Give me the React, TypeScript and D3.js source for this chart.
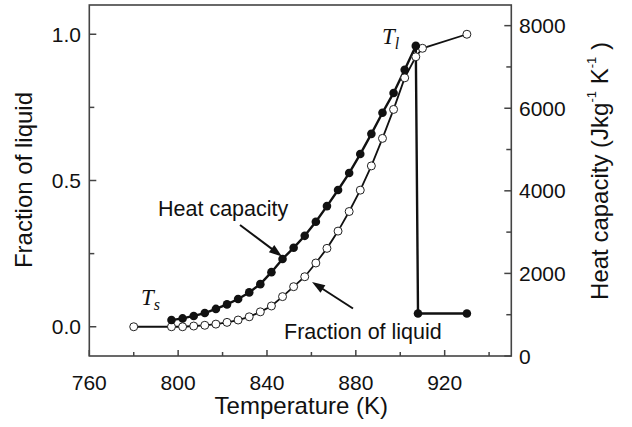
import React from 'react';
import * as d3 from 'd3';

const fracT = [780, 797, 802, 807, 812, 817, 822, 827, 832, 837, 842, 847, 852, 857, 862, 867, 872, 877, 882, 887, 892, 897, 902, 907, 910, 930];
const fracV = [0, 0, 0, 0.0025, 0.005, 0.009, 0.015, 0.023, 0.034, 0.051, 0.071, 0.103, 0.137, 0.171, 0.218, 0.268, 0.327, 0.394, 0.467, 0.55, 0.644, 0.743, 0.851, 0.923, 0.952, 1.0];

const hcT = [797, 802, 807, 812, 817, 822, 827, 832, 837, 842, 847, 852, 857, 862, 867, 872, 877, 882, 887, 892, 897, 902, 907, 908, 930];
const hcV = [870, 910, 970, 1040, 1140, 1250, 1380, 1540, 1740, 2030, 2350, 2620, 2910, 3250, 3630, 4020, 4430, 4890, 5380, 5890, 6370, 6930, 7510, 1030, 1030];

const xTicks = [760, 800, 840, 880, 920];
const xMinor = [780, 820, 860, 900, 940];
const leftTicks = [0, 0.5, 1.0];
const leftMinor = [0.25, 0.75];
const rightTicks = [0, 2000, 4000, 6000, 8000];
const rightMinor = [1000, 3000, 5000, 7000];

const W = 632, H = 427;
const L = 89.3, R = 511.3, T = 5, B = 356;
const sans = '"Liberation Sans", Arial, sans-serif';
const serif = '"Liberation Serif", "Times New Roman", serif';
const axisColor = '#444';

function arrow(x1: number, y1: number, x2: number, y2: number, len = 13, half = 4.5) {
  const dx = x2 - x1, dy = y2 - y1;
  const d = Math.hypot(dx, dy);
  const ux = dx / d, uy = dy / d;
  const bx = x2 - ux * len, by = y2 - uy * len;
  const px = -uy, py = ux;
  return {
    line: `M${x1},${y1}L${bx + ux * 2},${by + uy * 2}`,
    head: `M${x2},${y2}L${bx + px * half},${by + py * half}L${bx - px * half},${by - py * half}Z`,
  };
}

export default function App() {
  const x = d3.scaleLinear().domain([760, 950]).range([L, R]);
  const yL = d3.scaleLinear().domain([-0.1, 1.1]).range([B, T]);
  const yR = d3.scaleLinear().domain([0, 8500]).range([B, T]);

  const fracLine = d3.line<number>().x((_, i) => x(fracT[i])).y((d) => yL(d))(fracV) || '';
  const hcLine = d3.line<number>().x((_, i) => x(hcT[i])).y((d) => yR(d))(hcV) || '';

  const a1 = arrow(240, 225, 282, 256.5);
  const a2 = arrow(353, 308.5, 312, 282);

  return (
    <svg width={W} height={H} style={{ position: 'absolute', left: 0, top: 0, background: '#fff' }}>
      <rect x={0} y={0} width={W} height={H} fill="#fff" />
      {/* frame */}
      <rect x={L} y={T} width={R - L} height={B - T} fill="none" stroke={axisColor} strokeWidth={1.6} />
      {/* bottom ticks */}
      {xTicks.map((t) => (
        <g key={'xt' + t}>
          <line x1={x(t)} x2={x(t)} y1={B} y2={B - 6} stroke={axisColor} strokeWidth={1.5} />
          <text x={x(t)} y={390} textAnchor="middle" fontFamily={sans} fontSize={21} fill="#111">{t}</text>
        </g>
      ))}
      {xMinor.map((t) => (
        <line key={'xm' + t} x1={x(t)} x2={x(t)} y1={B} y2={B - 4} stroke={axisColor} strokeWidth={1.5} />
      ))}
      {/* left ticks */}
      {leftTicks.map((t) => (
        <g key={'lt' + t}>
          <line x1={L} x2={L + 7} y1={yL(t)} y2={yL(t)} stroke={axisColor} strokeWidth={1.5} />
          <text x={81} y={yL(t) + 7.5} textAnchor="end" fontFamily={sans} fontSize={21} fill="#111">{t.toFixed(1)}</text>
        </g>
      ))}
      {leftMinor.map((t) => (
        <line key={'lm' + t} x1={L} x2={L + 5} y1={yL(t)} y2={yL(t)} stroke={axisColor} strokeWidth={1.5} />
      ))}
      {/* right ticks */}
      {rightTicks.map((t) => (
        <g key={'rt' + t}>
          <line x1={R} x2={R - 7} y1={yR(t)} y2={yR(t)} stroke={axisColor} strokeWidth={1.5} />
          <text x={519} y={yR(t) + 7.5} textAnchor="start" fontFamily={sans} fontSize={21} fill="#111">{t}</text>
        </g>
      ))}
      {rightMinor.map((t) => (
        <line key={'rm' + t} x1={R} x2={R - 5} y1={yR(t)} y2={yR(t)} stroke={axisColor} strokeWidth={1.5} />
      ))}
      {/* axis titles */}
      <text x={(L + R) / 2 + 1} y={414} textAnchor="middle" fontFamily={sans} fontSize={24} fill="#111">Temperature (K)</text>
      <text transform="translate(32,180) rotate(-90)" textAnchor="middle" fontFamily={sans} fontSize={24} fill="#111">Fraction of liquid</text>
      <text transform="translate(608,171) rotate(-90)" textAnchor="middle" fontFamily={sans} fontSize={24} fill="#111">
        Heat capacity (Jkg<tspan fontSize={13} dy={-12}>-1</tspan><tspan dy={12}> K</tspan><tspan fontSize={13} dy={-12}>-1</tspan><tspan dy={12}> )</tspan>
      </text>
      {/* series */}
      <path d={fracLine} fill="none" stroke="#111" strokeWidth={1.8} />
      <path d={hcLine} fill="none" stroke="#111" strokeWidth={2.4} />
      {fracV.map((v, i) => (
        <circle key={'f' + i} cx={x(fracT[i])} cy={yL(v)} r={4} fill="#fff" stroke="#222" strokeWidth={1} />
      ))}
      {hcV.map((v, i) => (
        <circle key={'h' + i} cx={x(hcT[i])} cy={yR(v)} r={4.3} fill="#111" />
      ))}
      {/* annotations */}
      <text x={158} y={216} fontFamily={sans} fontSize={21.5} fill="#111">Heat capacity</text>
      <text x={284} y={339} fontFamily={sans} fontSize={21.5} fill="#111">Fraction of liquid</text>
      <path d={a1.line} stroke="#111" strokeWidth={2} fill="none" />
      <path d={a1.head} fill="#111" />
      <path d={a2.line} stroke="#111" strokeWidth={2} fill="none" />
      <path d={a2.head} fill="#111" />
      <text x={141} y={305} fontFamily={serif} fontStyle="italic" fontSize={23} fill="#111">
        T<tspan fontSize={16} dy={5}>s</tspan>
      </text>
      <text x={382} y={44} fontFamily={serif} fontStyle="italic" fontSize={23} fill="#111">
        T<tspan fontSize={16} dy={5}>l</tspan>
      </text>
    </svg>
  );
}
